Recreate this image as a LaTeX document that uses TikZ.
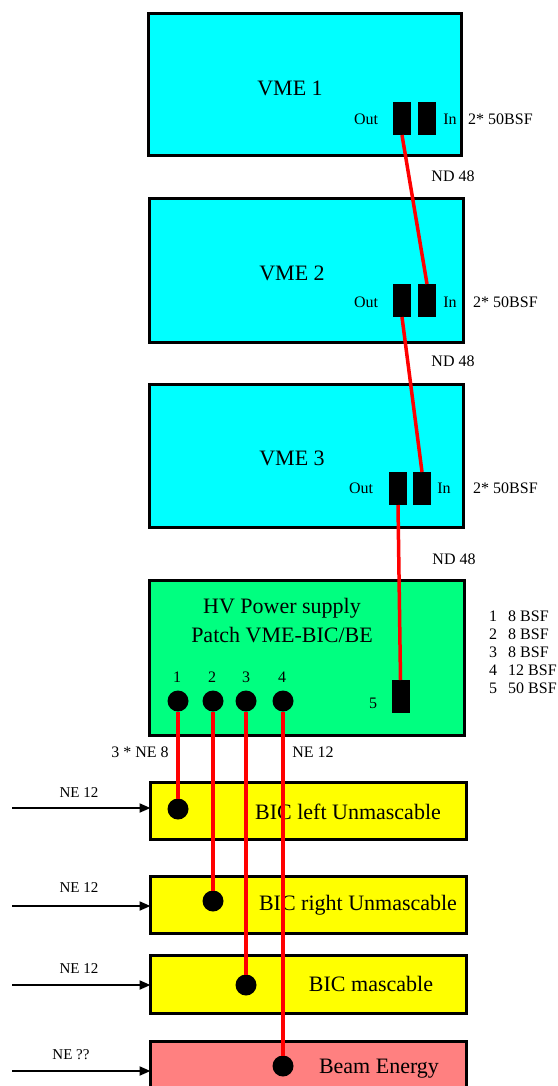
\documentclass[tikz,border=0pt]{standalone}
\usepackage{fontspec}
\setmainfont{Liberation Serif}
\usetikzlibrary{arrows.meta}
\definecolor{vmecyan}{RGB}{0,255,255}
\definecolor{hvgreen}{RGB}{0,255,128}
\definecolor{bicyellow}{RGB}{255,255,0}
\definecolor{beamred}{RGB}{255,128,128}
\begin{document}
\begin{tikzpicture}[x=1pt,y=-1pt,
  box/.style={draw=black, line width=3pt, inner sep=0pt, outer sep=0pt},
  port/.style={fill=black, minimum width=18pt, minimum height=33pt, inner sep=0pt, outer sep=0pt},
  dot/.style={circle, fill=black, minimum size=21pt, inner sep=0pt, outer sep=0pt},
  cable/.style={red, line width=3.5pt},
  feed/.style={line width=2pt, -{Triangle[length=11pt,width=9pt]}},
  big/.style={font=\fontsize{22}{29}\selectfont, align=center, inner sep=0pt},
  lab/.style={font=\fontsize{16}{18}\selectfont, inner sep=0pt},
  small/.style={font=\fontsize{15}{17}\selectfont, inner sep=0pt}]
\useasboundingbox (0,0) rectangle (557,1086);
\clip (0,0) rectangle (557,1086);

% boxes
\node[box, fill=vmecyan, minimum width=313pt, minimum height=142pt] (vme1) at (305,84.5) {};
\node[box, fill=vmecyan, minimum width=314pt, minimum height=144pt] (vme2) at (306.5,270.5) {};
\node[box, fill=vmecyan, minimum width=314pt, minimum height=143pt] (vme3) at (306.5,456) {};
\node[box, fill=hvgreen, minimum width=315pt, minimum height=155pt] (hv) at (307,658) {};
\node[box, fill=bicyellow, minimum width=316pt, minimum height=57pt] (bicl) at (308.5,811) {};
\node[box, fill=bicyellow, minimum width=316pt, minimum height=57pt] (bicr) at (308.5,905) {};
\node[box, fill=bicyellow, minimum width=316pt, minimum height=58pt] (bicm) at (308.5,984.5) {};
\node[box, fill=beamred, minimum width=316pt, minimum height=60pt] (beam) at (308.5,1071.5) {};

% box titles
\node[big] (t1) at (290,88) {VME 1};
\node[big] (t2) at (292,273) {VME 2};
\node[big] (t3) at (292,458) {VME 3};
\node[big] (thv) at (282,621) {HV Power supply\\Patch VME-BIC/BE};
\node[big] (tbl) at (348,812) {BIC left Unmascable};
\node[big] (tbr) at (358,905) {BIC right Unmascable};
\node[big] (tbm) at (371,984) {BIC mascable};
\node[big] (tbe) at (379,1069) {Beam Energy};

% ports
\node[port] (o1) at (402,118.5) {};
\node[port] (i1) at (427,118.5) {};
\node[port] (o2) at (402,300.5) {};
\node[port] (i2) at (427,300.5) {};
\node[port] (o3) at (398,488.5) {};
\node[port] (i3) at (422,488.5) {};
\node[port] (p5) at (400.5,696.5) {};

% port labels
\node[lab] (lo1) at (366,119) {Out};
\node[lab] (li1) at (450,119) {In};
\node[lab, anchor=west] (n1) at (468,119) {2* 50BSF};
\node[lab] (lo2) at (366,302) {Out};
\node[lab] (li2) at (450,302) {In};
\node[lab, anchor=west] (n2) at (473,302) {2* 50BSF};
\node[lab] (lo3) at (361,488) {Out};
\node[lab] (li3) at (444,488) {In};
\node[lab, anchor=west] (n3) at (473,488) {2* 50BSF};
\node[lab] (nd1) at (453,176) {ND 48};
\node[lab] (nd2) at (453,361) {ND 48};
\node[lab] (nd3) at (454,559) {ND 48};

% HV ports
\node[dot] (c1) at (178,701) {};
\node[dot] (c2) at (213,701) {};
\node[dot] (c3) at (246,701) {};
\node[dot] (c4) at (283,701) {};
\node[lab] (l1) at (177,677) {1};
\node[lab] (l2) at (212,677) {2};
\node[lab] (l3) at (246,677) {3};
\node[lab] (l4) at (282,677) {4};
\node[lab] (l5) at (373,703) {5};

% list
\node[lab, anchor=west] (s1) at (489,616) {1\hspace{11pt}8 BSF};
\node[lab, anchor=west] (s2) at (489,634) {2\hspace{11pt}8 BSF};
\node[lab, anchor=west] (s3) at (489,652) {3\hspace{11pt}8 BSF};
\node[lab, anchor=west] (s4) at (489,670) {4\hspace{11pt}12 BSF};
\node[lab, anchor=west] (s5) at (489,688) {5\hspace{11pt}50 BSF};

\node[lab] (ne8) at (140,752) {3 * NE 8};
\node[lab] (ne12) at (313,752) {NE 12};

% BIC ports
\node[dot] (b1) at (178,809) {};
\node[dot] (b2) at (213,901) {};
\node[dot] (b3) at (246,985) {};
\node[dot] (b4) at (283,1066) {};

% cables
\draw[cable] (o1.south) -- (i2.north);
\draw[cable] (o2.south) -- (i3.north);
\draw[cable] (o3.south) -- (p5.north);
\draw[cable] (c1.south) -- (b1.north);
\draw[cable] (c2.south) -- (b2.north);
\draw[cable] (c3.south) -- (b3.north);
\draw[cable] (c4.south) -- (b4.north);

% inputs
\coordinate (a1) at (12,808);
\coordinate (a2) at (12,906);
\coordinate (a3) at (12,985);
\coordinate (a4) at (12,1071);
\draw[feed] (a1) -- (a1 -| bicl.west);
\draw[feed] (a2) -- (a2 -| bicr.west);
\draw[feed] (a3) -- (a3 -| bicm.west);
\draw[feed] (a4) -- (a4 -| beam.west);
\node[small] (e1) at (79,793) {NE 12};
\node[small] (e2) at (79,888) {NE 12};
\node[small] (e3) at (79,969) {NE 12};
\node[small] (e4) at (71,1055) {NE ??};
\end{tikzpicture}
\end{document}
